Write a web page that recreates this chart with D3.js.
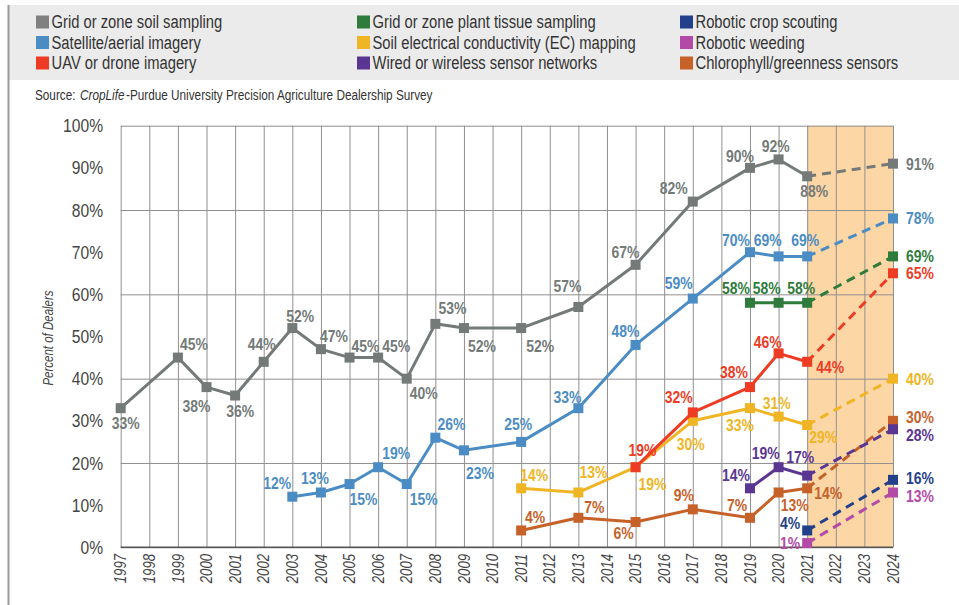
<!DOCTYPE html>
<html lang="en">
<head>
<meta charset="UTF-8">
<title>Precision services offered by dealers</title>
<style>
  * { box-sizing: border-box; }
  html, body { margin: 0; padding: 0; background: #fff; }
  #main { width: 959px; height: 605px; }
  text { font-family: "Liberation Sans", Arial, sans-serif; }
</style>
</head>
<body>
<div id="main"></div>
<script src="https://d3js.org/d3.v7.min.js"></script>
<script>
/* ---------- data ---------- */
const yearTicks = d3.range(1997, 2025)
const percentTicks = d3.range(0, 101, 10)
const gridTicks = d3.range(0, 101, 20)
const projectionYear = 2024
const lastSurveyYear = 2021

const seriesNames = [
  'Grid or zone soil sampling', 'Satellite/aerial imagery', 'UAV or drone imagery',
  'Grid or zone plant tissue sampling', 'Soil electrical conductivity (EC) mapping', 'Wired or wireless sensor networks',
  'Robotic crop scouting', 'Robotic weeding', 'Chlorophyll/greenness sensors'
]

const soilYears = [1997, 1999, 2000, 2001, 2002, 2003, 2004, 2005, 2006, 2007, 2008, 2009, 2011, 2013, 2015, 2017, 2019, 2020, 2021]
const soilValues = [33, 45, 38, 36, 44, 52, 47, 45, 45, 40, 53, 52, 52, 57, 67, 82, 90, 92, 88]
const satelliteYears = [2003, 2004, 2005, 2006, 2007, 2008, 2009, 2011, 2013, 2015, 2017, 2019, 2020, 2021]
const satelliteValues = [12, 13, 15, 19, 15, 26, 23, 25, 33, 48, 59, 70, 69, 69]
const uavYears = [2015, 2017, 2019, 2020, 2021]
const uavValues = [19, 32, 38, 46, 44]
const tissueYears = [2019, 2020, 2021]
const tissueValues = [58, 58, 58]
const ecYears = [2011, 2013, 2015, 2017, 2019, 2020, 2021]
const ecValues = [14, 13, 19, 30, 33, 31, 29]
const sensorYears = [2019, 2020, 2021]
const sensorValues = [14, 19, 17]
const scoutingYears = [2021]
const scoutingValues = [4]
const weedingYears = [2021]
const weedingValues = [1]
const chlorophyllYears = [2011, 2013, 2015, 2017, 2019, 2020, 2021]
const chlorophyllValues = [4, 7, 6, 9, 7, 13, 14]

// 2024 projections, same order as seriesNames
const projectedValues = [91, 78, 65, 69, 40, 28, 16, 13, 30]

/* ---------- styling ---------- */
const colors = ['#737a78', '#4b8cc4', '#ee3b24', '#2f7b3b', '#f0b524', '#5a3592', '#23408b', '#b44aa8', '#c7612a']
const legendColors = ['#808080', '#4b8cc4', '#ee3b24', '#2f7b3b', '#f0b524', '#5a3592', '#23408b', '#b44aa8', '#c7612a']

// label placement offsets [dx, dy] from each marker centre (last entry = 2024 projection)
const R = [27, 0]
const labelOffsets = [
  [[5,15],[16,-14],[-10,19],[5,16],[-2,-18],[8,-12],[13,-13],[16,-12],[18,-12],[17,14],[17,-16],[18,18],[19,18],[-11,-21],[-10,-13],[-19,-14],[-10,-12],[-3,-13],[7,15], R],
  [[-15,-14],[-6,-14],[14,15],[18,-14],[17,15],[16,-14],[16,23],[-3,-18],[-11,-11],[-10,-14],[-14,-16],[-14,-12],[-11,-16],[-2,-16], R],
  [[7,-17],[-14,-15],[-16,-15],[-11,-11],[23,5], R],
  [[-14,-15],[-12,-15],[-6,-15], R],
  [[13,-13],[15,-20],[17,17],[-2,23],[-10,17],[-2,-14],[16,12], R],
  [[-14,-13],[-13,-14],[-7,-19],[27,6]],
  [[-17,-7], [27,-2]],
  [[-17,0],[27,4]],
  [[14,-13],[16,-11],[-12,11],[-9,-14],[-13,-13],[16,13],[21,5],[27,-4]]
]

const seriesYears = [soilYears, satelliteYears, uavYears, tissueYears, ecYears, sensorYears, scoutingYears, weedingYears, chlorophyllYears]
const seriesValues = [soilValues, satelliteValues, uavValues, tissueValues, ecValues, sensorValues, scoutingValues, weedingValues, chlorophyllValues]
// drawing order (back to front)
const drawOrder = [0, 1, 4, 8, 3, 5, 2, 6, 7]

// squeeze text horizontally to imitate a condensed face
function condense(sel, k = 0.82) {
  sel.each(function () {
    const w = this.getComputedTextLength()
    this.setAttribute('textLength', (w * k).toFixed(1))
    this.setAttribute('lengthAdjust', 'spacingAndGlyphs')
  })
}

/* ---------- svg ---------- */
const width = 959
const height = 605
const svg = d3.select('#main').append('svg')
  .attr('width', width)
  .attr('height', height)
  .attr('viewBox', `0 0 ${width} ${height}`)

const xScale = d3.scaleLinear().domain([1997, 2024]).range([120.7, 893])
const yScale = d3.scaleLinear().domain([0, 100]).range([547.3, 125.7])

// legend band
svg.append('rect').attr('x', 9).attr('y', 5).attr('width', width - 9).attr('height', 75).attr('fill', '#ebebeb')
svg.append('line').attr('x1', 8.5).attr('x2', 8.5).attr('y1', 5).attr('y2', height).attr('stroke', '#9a9a9a').attr('stroke-width', 2)

const legendCols = [36, 357, 680]
const legendRows = [22, 42.5, 63]
seriesNames.forEach((name, i) => {
  const col = Math.floor(i / 3), row = i % 3
  const g = svg.append('g').attr('transform', `translate(${legendCols[col]},${legendRows[row]})`)
  g.append('rect').attr('x', 0).attr('y', -6.5).attr('width', 13).attr('height', 13).attr('fill', legendColors[i])
  g.append('text').attr('x', 15.5).attr('y', 0).attr('dy', '0.35em')
    .attr('font-size', 18).attr('fill', '#333').text(name)
    .call(condense)
})

// source line: three pieces placed one after another
const srcParts = [['Source:', 'normal', 4], ['CropLife', 'italic', 1], ['-Purdue University Precision Agriculture Dealership Survey', 'normal', 0]]
let srcX = 35
srcParts.forEach(([t, st, gap]) => {
  const el = svg.append('text').attr('x', srcX).attr('y', 100).attr('font-size', 14)
    .attr('font-style', st).attr('fill', '#333').text(t)
  const w = el.node().getComputedTextLength() * 0.84
  el.attr('textLength', w.toFixed(1)).attr('lengthAdjust', 'spacingAndGlyphs')
  srcX += w + gap + 0.5
})

// projection shading
svg.append('rect')
  .attr('x', xScale(lastSurveyYear)).attr('y', yScale(100))
  .attr('width', xScale(projectionYear) - xScale(lastSurveyYear))
  .attr('height', yScale(0) - yScale(100))
  .attr('fill', '#fdd6a6')

// vertical grid
svg.append('g')
  .attr('transform', `translate(0,${yScale(0)})`)
  .call(d3.axisBottom(xScale).tickValues(yearTicks).tickSize(-(yScale(0) - yScale(100))).tickFormat(''))
  .call(g => g.select('.domain').remove())
  .call(g => g.selectAll('line').attr('stroke', '#8f8f8f'))

// horizontal grid
svg.append('g')
  .attr('transform', `translate(${xScale(1997)},0)`)
  .call(d3.axisLeft(yScale).tickValues(gridTicks).tickSize(-(xScale(2024) - xScale(1997))).tickFormat(''))
  .call(g => g.select('.domain').remove())
  .call(g => g.selectAll('line').attr('stroke', '#8f8f8f'))

svg.append('line').attr('x1', xScale(1997)).attr('x2', xScale(2024))
  .attr('y1', yScale(0)).attr('y2', yScale(0)).attr('stroke', '#555').attr('stroke-width', 1.5)

// y tick labels
svg.append('g')
  .attr('transform', 'translate(103,0)')
  .call(d3.axisLeft(yScale).tickValues(percentTicks).tickSize(0).tickPadding(0).tickFormat(d => d + '%'))
  .call(g => g.select('.domain').remove())
  .call(g => g.selectAll('text').attr('font-size', 19).attr('fill', '#444')
    .attr('font-family', '"Liberation Sans", Arial, sans-serif').call(condense))

// x tick labels (rotated)
svg.append('g').selectAll('text').data(yearTicks).join('text')
  .attr('transform', d => `translate(${xScale(d)},554) rotate(-90)`)
  .attr('text-anchor', 'end').attr('dy', '0.35em')
  .attr('font-size', 16).attr('font-style', 'italic').attr('fill', '#444')
  .text(d => d)
  .call(condense)

// y axis title
svg.append('text')
  .attr('transform', 'translate(48,338) rotate(-90)')
  .attr('text-anchor', 'middle').attr('dy', '0.35em')
  .attr('font-size', 14).attr('font-style', 'italic').attr('fill', '#444')
  .text('Percent of Dealers')
  .call(condense)

/* ---------- series ---------- */
const line = d3.line().x(d => xScale(d[0])).y(d => yScale(d[1]))
const plot = svg.append('g')

drawOrder.forEach(i => {
  const pts = seriesYears[i].map((y, k) => [y, seriesValues[i][k]])
  const last = pts[pts.length - 1]
  const proj = [projectionYear, projectedValues[i]]
  const g = plot.append('g')

  if (pts.length > 1) {
    g.append('path').datum(pts).attr('d', line)
      .attr('fill', 'none').attr('stroke', colors[i]).attr('stroke-width', 3).attr('stroke-linejoin', 'round')
  }
  g.append('path').datum([last, proj]).attr('d', line)
    .attr('fill', 'none').attr('stroke', colors[i]).attr('stroke-width', 3).attr('stroke-dasharray', '9 6')

  const all = pts.concat([proj])
  g.selectAll('rect').data(all).join('rect')
    .attr('x', d => xScale(d[0]) - 5).attr('y', d => yScale(d[1]) - 5)
    .attr('width', 10).attr('height', 10).attr('fill', colors[i])

  g.selectAll('text').data(all).join('text')
    .attr('x', (d, k) => xScale(d[0]) + labelOffsets[i][k][0])
    .attr('y', (d, k) => yScale(d[1]) + labelOffsets[i][k][1])
    .attr('text-anchor', 'middle').attr('dy', '0.35em')
    .attr('font-size', 17).attr('font-weight', 'bold').attr('fill', colors[i])
    .text(d => d[1] + '%')
    .call(condense)
})
</script>
</body>
</html>
